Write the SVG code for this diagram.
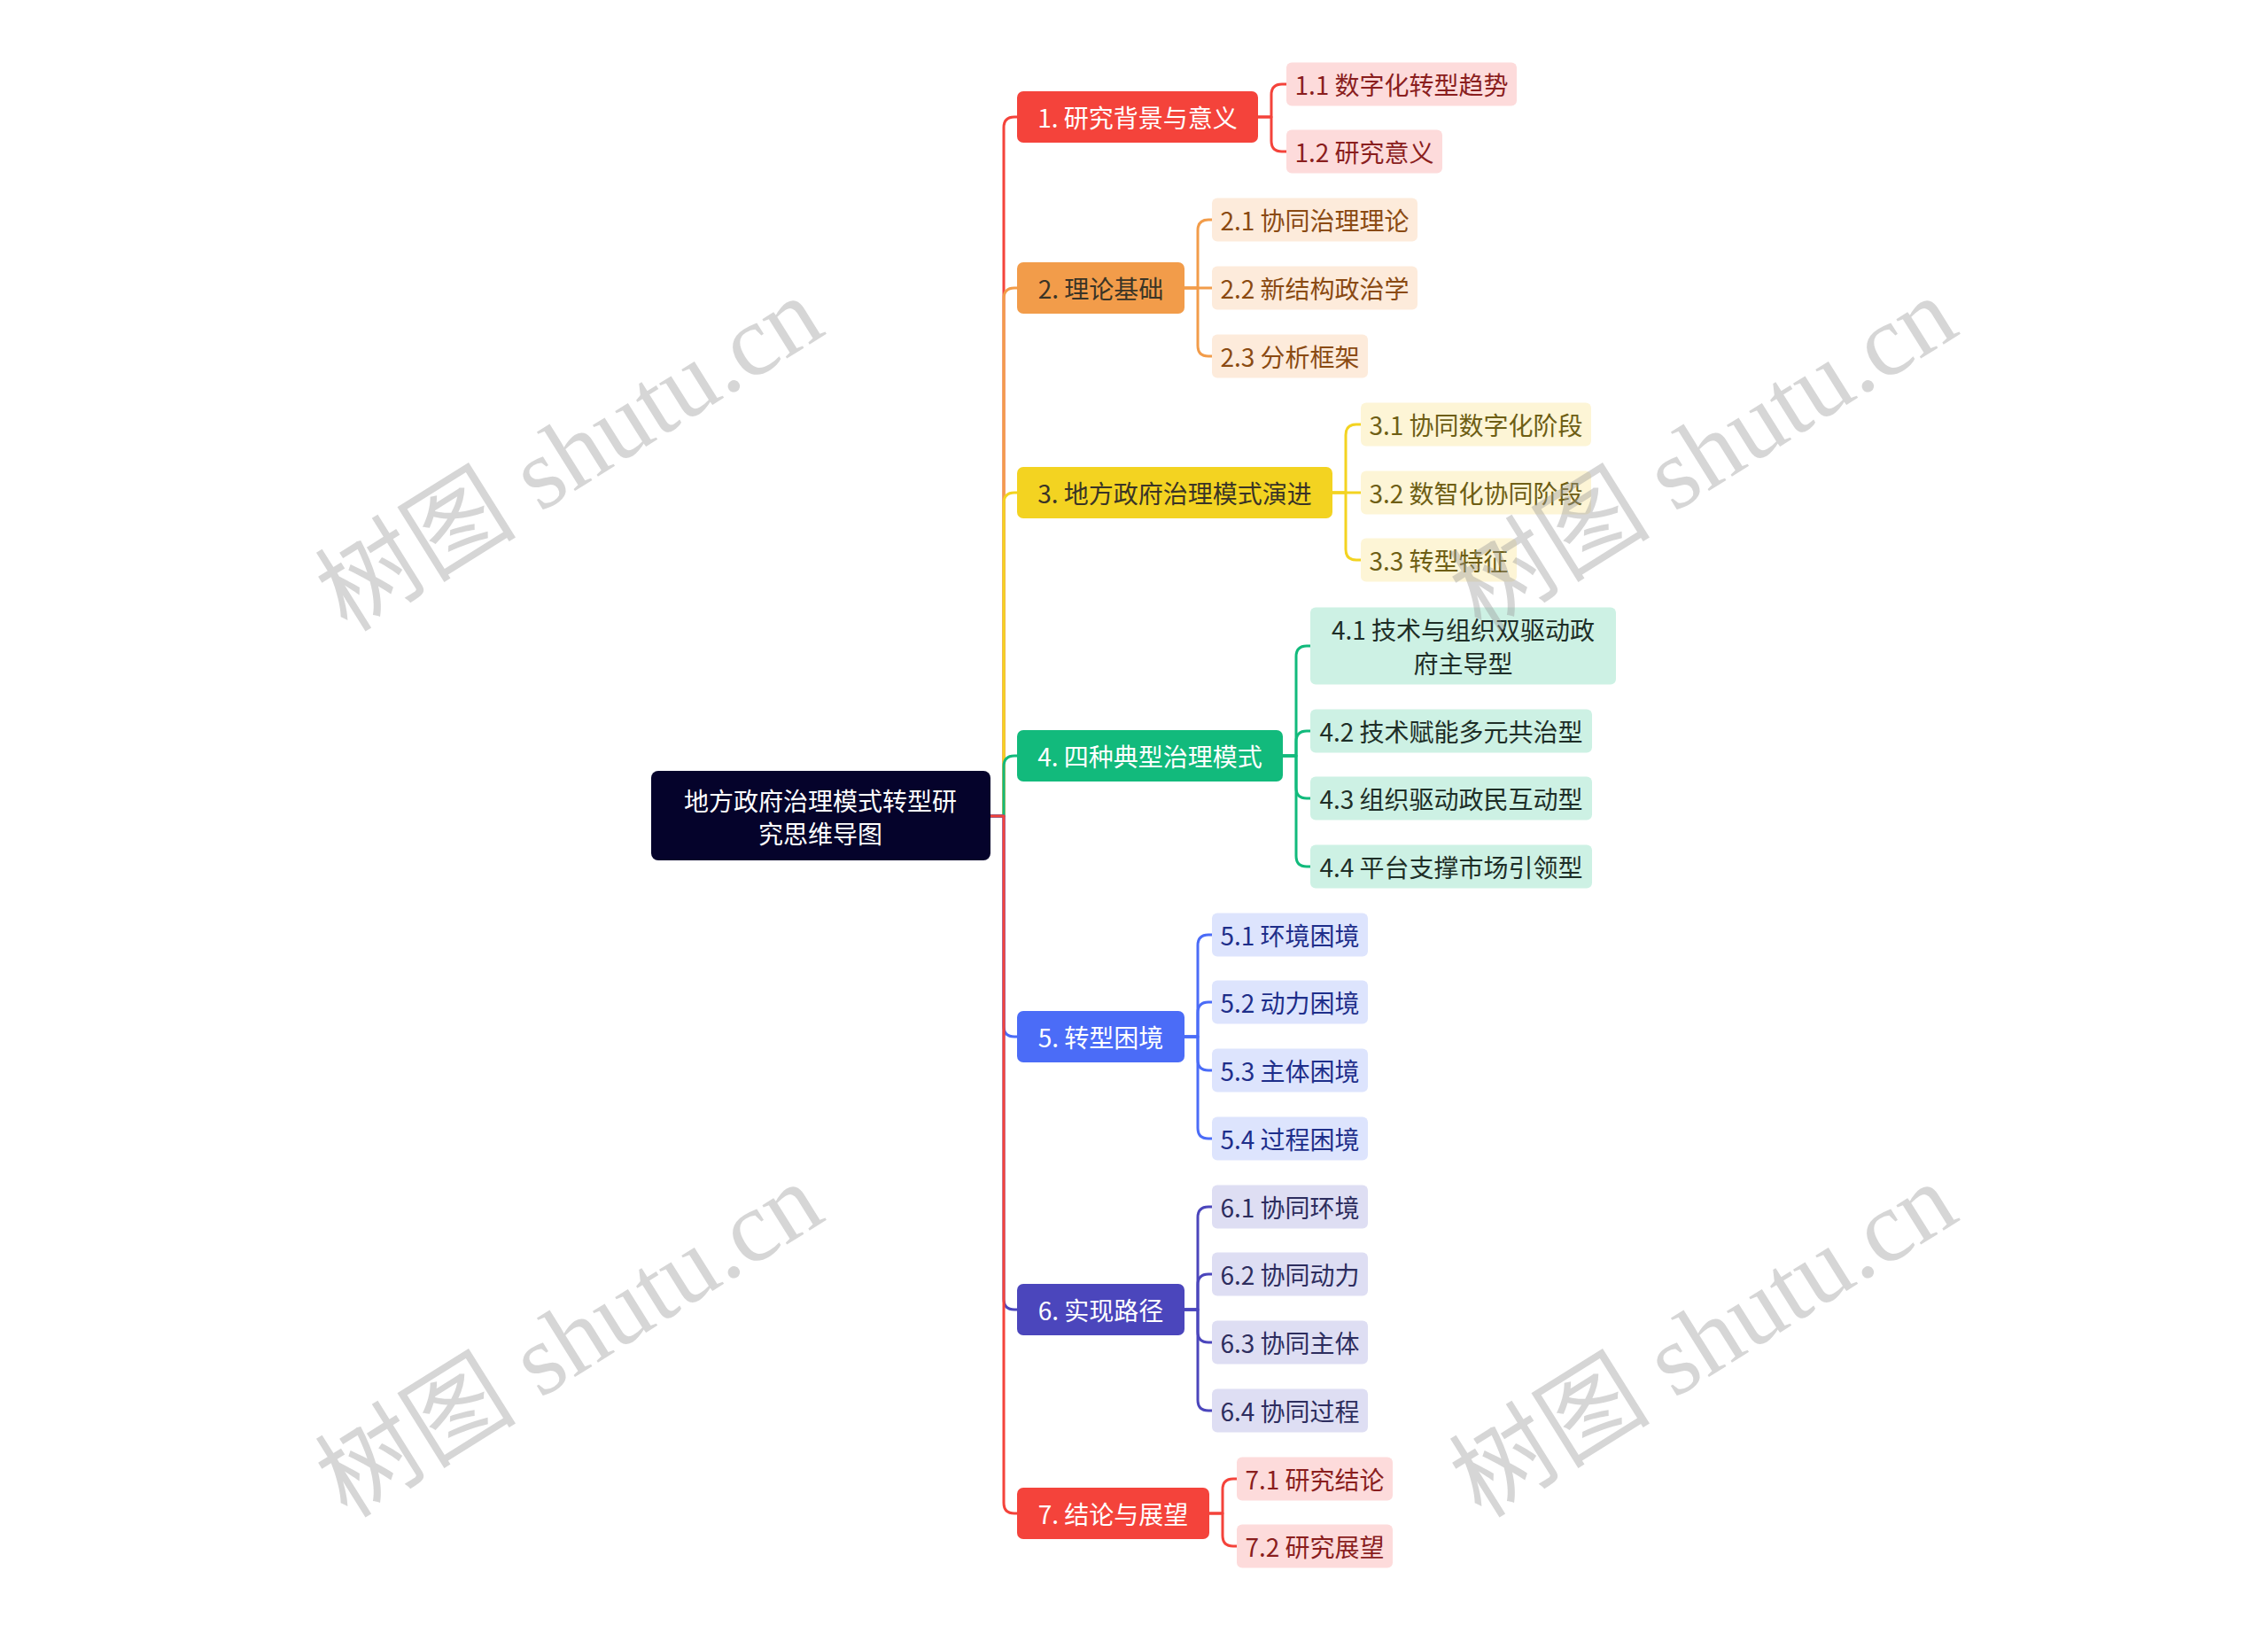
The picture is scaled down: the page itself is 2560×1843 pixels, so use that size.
<svg xmlns="http://www.w3.org/2000/svg" width="2560" height="1843" viewBox="0 0 2560 1843">
<style>
text{font-family:"Noto Sans CJK SC","Noto Sans",sans-serif;font-size:28px;text-anchor:middle;dominant-baseline:central}
.c{fill:none;stroke-width:3;stroke-linecap:round;stroke-linejoin:round}
.wm{font-family:"Liberation Serif","Noto Sans CJK SC",serif;font-size:114px;fill:#9a9a9a;opacity:0.4;dominant-baseline:auto}
.red{fill:#F4433B}.ora{fill:#F29C4A}.yel{fill:#F3D321}.grn{fill:#12BA7C}.blu{fill:#4B6CF7}.ind{fill:#4B46BC}
.lred{fill:#FDDBDB}.lora{fill:#FDEBDB}.lyel{fill:#FDF5D6}.lgrn{fill:#CDF1E4}.lblu{fill:#DDE4FD}.lind{fill:#DEDEF3}
.w{fill:#FFFFFF}.tred{fill:#8A1E1E}.tora{fill:#8A4A12}.tyel{fill:#6E5E14}.tgrn{fill:#1E2E27}.tblu{fill:#1E2E8A}.tind{fill:#2D2D5E}.dk{fill:#3A3426}
</style>
<rect width="2560" height="1843" fill="#FFFFFF"/>
<g id="connectors">
<path class="c" stroke="#F4433B" d="M1118 921 H1133 V144 Q1133 132 1145 132 H1148"/>
<path class="c" stroke="#F29C4A" d="M1118 921 H1133 V337 Q1133 325 1145 325 H1148"/>
<path class="c" stroke="#F3D321" d="M1118 921 H1133 V568 Q1133 556 1145 556 H1148"/>
<path class="c" stroke="#12BA7C" d="M1118 921 H1133 V865 Q1133 853 1145 853 H1148"/>
<path class="c" stroke="#4B6CF7" d="M1118 921 H1133 V1158 Q1133 1170 1145 1170 H1148"/>
<path class="c" stroke="#4B46BC" d="M1118 921 H1133 V1466 Q1133 1478 1145 1478 H1148"/>
<path class="c" stroke="#F4433B" d="M1118 921 H1133 V1696 Q1133 1708 1145 1708 H1148"/>
<path class="c" stroke="#F4433B" d="M1420 132 H1435 V107 Q1435 95 1447 95 H1452"/>
<path class="c" stroke="#F4433B" d="M1420 132 H1435 V159 Q1435 171 1447 171 H1452"/>
<path class="c" stroke="#F29C4A" d="M1337 325 H1352 V260 Q1352 248 1364 248 H1368"/>
<path class="c" stroke="#F29C4A" d="M1337 325 H1368"/>
<path class="c" stroke="#F29C4A" d="M1337 325 H1352 V390 Q1352 402 1364 402 H1368"/>
<path class="c" stroke="#F3D321" d="M1504 556 H1519 V491 Q1519 479 1531 479 H1536"/>
<path class="c" stroke="#F3D321" d="M1504 556 H1536"/>
<path class="c" stroke="#F3D321" d="M1504 556 H1519 V620 Q1519 632 1531 632 H1536"/>
<path class="c" stroke="#12BA7C" d="M1448 853 H1463 V741 Q1463 729 1475 729 H1479"/>
<path class="c" stroke="#12BA7C" d="M1448 853 H1463 V837 Q1463 825 1475 825 H1479"/>
<path class="c" stroke="#12BA7C" d="M1448 853 H1463 V889 Q1463 901 1475 901 H1479"/>
<path class="c" stroke="#12BA7C" d="M1448 853 H1463 V966 Q1463 978 1475 978 H1479"/>
<path class="c" stroke="#4B6CF7" d="M1337 1170 H1352 V1067 Q1352 1055 1364 1055 H1368"/>
<path class="c" stroke="#4B6CF7" d="M1337 1170 H1352 V1143 Q1352 1131 1364 1131 H1368"/>
<path class="c" stroke="#4B6CF7" d="M1337 1170 H1352 V1196 Q1352 1208 1364 1208 H1368"/>
<path class="c" stroke="#4B6CF7" d="M1337 1170 H1352 V1273 Q1352 1285 1364 1285 H1368"/>
<path class="c" stroke="#4B46BC" d="M1337 1478 H1352 V1374 Q1352 1362 1364 1362 H1368"/>
<path class="c" stroke="#4B46BC" d="M1337 1478 H1352 V1450 Q1352 1438 1364 1438 H1368"/>
<path class="c" stroke="#4B46BC" d="M1337 1478 H1352 V1503 Q1352 1515 1364 1515 H1368"/>
<path class="c" stroke="#4B46BC" d="M1337 1478 H1352 V1580 Q1352 1592 1364 1592 H1368"/>
<path class="c" stroke="#F4433B" d="M1365 1708 H1380 V1681 Q1380 1669 1392 1669 H1396"/>
<path class="c" stroke="#F4433B" d="M1365 1708 H1380 V1733 Q1380 1745 1392 1745 H1396"/>
</g>
<g id="root"><rect x="735" y="870" width="383" height="101" rx="8" fill="#05032B"/><text class="w" x="926" y="903">地方政府治理模式转型研</text><text class="w" x="926" y="940">究思维导图</text></g>
<g id="n1"><rect class="red" x="1148" y="103" width="272" height="58" rx="7"/><text class="w" x="1284" y="132">1. 研究背景与意义</text></g>
<g id="n1-1"><rect class="lred" x="1452" y="70.5" width="260" height="49" rx="6"/><text class="tred" x="1582" y="95">1.1 数字化转型趋势</text></g>
<g id="n1-2"><rect class="lred" x="1452" y="146.5" width="176" height="49" rx="6"/><text class="tred" x="1540" y="171">1.2 研究意义</text></g>
<g id="n2"><rect class="ora" x="1148" y="296" width="189" height="58" rx="7"/><text class="dk" x="1242.5" y="325">2. 理论基础</text></g>
<g id="n2-1"><rect class="lora" x="1368" y="223.5" width="232" height="49" rx="6"/><text class="tora" x="1484" y="248">2.1 协同治理理论</text></g>
<g id="n2-2"><rect class="lora" x="1368" y="300.5" width="232" height="49" rx="6"/><text class="tora" x="1484" y="325">2.2 新结构政治学</text></g>
<g id="n2-3"><rect class="lora" x="1368" y="377.5" width="176" height="49" rx="6"/><text class="tora" x="1456" y="402">2.3 分析框架</text></g>
<g id="n3"><rect class="yel" x="1148" y="527" width="356" height="58" rx="7"/><text class="dk" x="1326" y="556">3. 地方政府治理模式演进</text></g>
<g id="n3-1"><rect class="lyel" x="1536" y="454.5" width="260" height="49" rx="6"/><text class="tyel" x="1666" y="479">3.1 协同数字化阶段</text></g>
<g id="n3-2"><rect class="lyel" x="1536" y="531.5" width="260" height="49" rx="6"/><text class="tyel" x="1666" y="556">3.2 数智化协同阶段</text></g>
<g id="n3-3"><rect class="lyel" x="1536" y="607.5" width="176" height="49" rx="6"/><text class="tyel" x="1624" y="632">3.3 转型特征</text></g>
<g id="n4"><rect class="grn" x="1148" y="824" width="300" height="58" rx="7"/><text class="w" x="1298" y="853">4. 四种典型治理模式</text></g>
<g id="n4-1"><rect class="lgrn" x="1479" y="685.5" width="345" height="87" rx="6"/><text class="tgrn" x="1651.5" y="710">4.1 技术与组织双驱动政</text><text class="tgrn" x="1651.5" y="748">府主导型</text></g>
<g id="n4-2"><rect class="lgrn" x="1479" y="800.5" width="318" height="49" rx="6"/><text class="tgrn" x="1638" y="825">4.2 技术赋能多元共治型</text></g>
<g id="n4-3"><rect class="lgrn" x="1479" y="876.5" width="318" height="49" rx="6"/><text class="tgrn" x="1638" y="901">4.3 组织驱动政民互动型</text></g>
<g id="n4-4"><rect class="lgrn" x="1479" y="953.5" width="318" height="49" rx="6"/><text class="tgrn" x="1638" y="978">4.4 平台支撑市场引领型</text></g>
<g id="n5"><rect class="blu" x="1148" y="1141" width="189" height="58" rx="7"/><text class="w" x="1242.5" y="1170">5. 转型困境</text></g>
<g id="n5-1"><rect class="lblu" x="1368" y="1030.5" width="176" height="49" rx="6"/><text class="tblu" x="1456" y="1055">5.1 环境困境</text></g>
<g id="n5-2"><rect class="lblu" x="1368" y="1106.5" width="176" height="49" rx="6"/><text class="tblu" x="1456" y="1131">5.2 动力困境</text></g>
<g id="n5-3"><rect class="lblu" x="1368" y="1183.5" width="176" height="49" rx="6"/><text class="tblu" x="1456" y="1208">5.3 主体困境</text></g>
<g id="n5-4"><rect class="lblu" x="1368" y="1260.5" width="176" height="49" rx="6"/><text class="tblu" x="1456" y="1285">5.4 过程困境</text></g>
<g id="n6"><rect class="ind" x="1148" y="1449" width="189" height="58" rx="7"/><text class="w" x="1242.5" y="1478">6. 实现路径</text></g>
<g id="n6-1"><rect class="lind" x="1368" y="1337.5" width="176" height="49" rx="6"/><text class="tind" x="1456" y="1362">6.1 协同环境</text></g>
<g id="n6-2"><rect class="lind" x="1368" y="1413.5" width="176" height="49" rx="6"/><text class="tind" x="1456" y="1438">6.2 协同动力</text></g>
<g id="n6-3"><rect class="lind" x="1368" y="1490.5" width="176" height="49" rx="6"/><text class="tind" x="1456" y="1515">6.3 协同主体</text></g>
<g id="n6-4"><rect class="lind" x="1368" y="1567.5" width="176" height="49" rx="6"/><text class="tind" x="1456" y="1592">6.4 协同过程</text></g>
<g id="n7"><rect class="red" x="1148" y="1679" width="217" height="58" rx="7"/><text class="w" x="1256.5" y="1708">7. 结论与展望</text></g>
<g id="n7-1"><rect class="lred" x="1396" y="1644.5" width="176" height="49" rx="6"/><text class="tred" x="1484" y="1669">7.1 研究结论</text></g>
<g id="n7-2"><rect class="lred" x="1396" y="1720.5" width="176" height="49" rx="6"/><text class="tred" x="1484" y="1745">7.2 研究展望</text></g>
<g id="watermarks">
<text class="wm" transform="translate(643 513) rotate(-32)" x="0" y="38">树图 shutu.cn</text>
<text class="wm" transform="translate(1923 513) rotate(-32)" x="0" y="38">树图 shutu.cn</text>
<text class="wm" transform="translate(643 1513) rotate(-32)" x="0" y="38">树图 shutu.cn</text>
<text class="wm" transform="translate(1923 1513) rotate(-32)" x="0" y="38">树图 shutu.cn</text>
</g>
</svg>
